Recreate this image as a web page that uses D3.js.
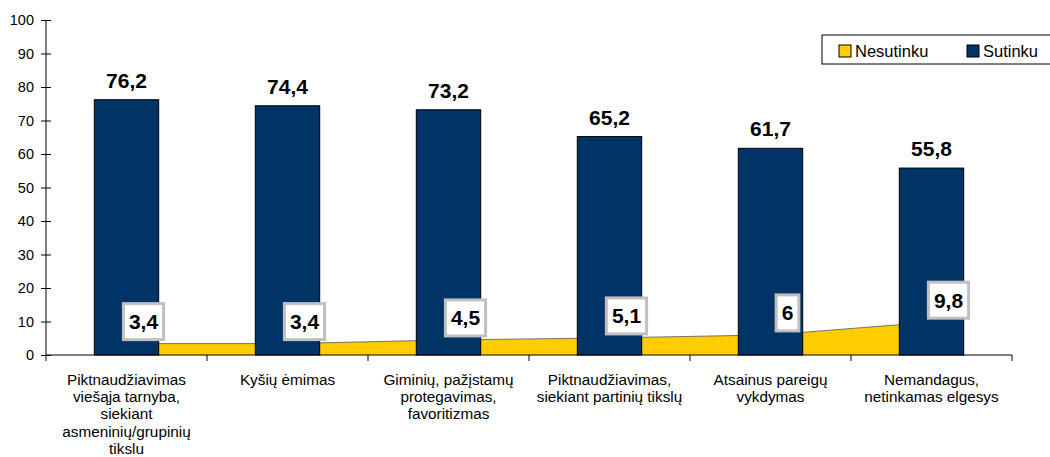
<!DOCTYPE html>
<html>
  <head>
    <meta charset="utf-8">
    <title>Sutinku / Nesutinku</title>
    <style media="screen">
      body { margin: 0; background: white; }
      text { font-family: "Liberation Sans", Arial, sans-serif; fill: black; }
      .axis path, .axis line { stroke: black; stroke-width: 1; fill: none; }
      .bar { fill: #003366; stroke: black; stroke-width: 1; }
      .area { fill: #ffcc00; }
      .area-line { fill: none; stroke: #555; stroke-width: 0.8; }
      .val { font-size: 21px; font-weight: bold; }
      .lbl-box { fill: white; stroke: #c0c0c0; stroke-width: 3; }
    </style>
    <script src="https://d3js.org/d3.v7.min.js"></script>
  </head>
  <body>
    <script type="text/javascript">

      const categories = [
        ["Piktnaudžiavimas", "viešąja tarnyba,", "siekiant", "asmeninių/grupinių", "tikslu"],
        ["Kyšių ėmimas"],
        ["Giminių, pažįstamų", "protegavimas,", "favoritizmas"],
        ["Piktnaudžiavimas,", "siekiant partinių tikslų"],
        ["Atsainus pareigų", "vykdymas"],
        ["Nemandagus,", "netinkamas elgesys"]
      ];
      const sutinku = [76.2, 74.4, 73.2, 65.2, 61.7, 55.8];
      const nesutinku = [3.4, 3.4, 4.5, 5.1, 6, 9.8];
      const yTicks = [0, 10, 20, 30, 40, 50, 60, 70, 80, 90, 100];
      const seriesNames = ["Nesutinku", "Sutinku"];

      const width = 1050;
      const height = 457;
      const margin = { top: 20, left: 46, right: 38, bottom: 102 };

      const fmt = v => String(v).replace(".", ",");
      const idx = categories.map((c, i) => i);

      const svg = d3.select('body')
        .append('svg')
          .attr('width', width)
          .attr('height', height);

      const x = d3.scaleBand()
        .domain(idx)
        .range([margin.left, width - margin.right])
        .padding(0);

      const y = d3.scaleLinear()
        .domain([0, 100])
        .range([height - margin.bottom, margin.top]);

      const bw = x.bandwidth() * 0.4;
      const cx = i => x(i) + x.bandwidth() / 2;

      // nesutinku area behind the bars
      const area = d3.area()
        .x((d, i) => cx(i))
        .y0(y(0))
        .y1(d => y(d));
      svg.append('path').datum(nesutinku).attr('class', 'area').attr('d', area);
      svg.append('path').datum(nesutinku).attr('class', 'area-line')
        .attr('d', d3.line().x((d, i) => cx(i)).y(d => y(d)));

      // sutinku bars
      svg.selectAll('rect.bar')
        .data(sutinku)
        .enter()
        .append('rect')
          .attr('class', 'bar')
          .attr('x', (d, i) => cx(i) - bw / 2)
          .attr('y', d => y(d))
          .attr('width', bw)
          .attr('height', d => y(0) - y(d));

      svg.selectAll('text.top')
        .data(sutinku)
        .enter()
        .append('text')
          .attr('class', 'val top')
          .attr('text-anchor', 'middle')
          .attr('x', (d, i) => cx(i))
          .attr('y', d => y(d) - 12)
          .text(fmt);

      // y axis
      const yAxis = d3.axisLeft(y).tickValues(yTicks).tickSize(0).tickPadding(12);
      const gy = svg.append('g').attr('class', 'axis')
        .attr('transform', `translate(${margin.left},0)`)
        .call(yAxis);
      gy.select('.domain').remove();
      gy.selectAll('text').style('font-size', '14.5px');
      gy.selectAll('.tick').append('line').attr('x1', -5).attr('x2', 5);
      gy.append('line').attr('y1', y(100)).attr('y2', y(0) + 6);

      // x axis
      const gx = svg.append('g').attr('class', 'axis')
        .attr('transform', `translate(0,${y(0)})`);
      gx.append('line').attr('x1', margin.left).attr('x2', width - margin.right);
      gx.selectAll('line.tk')
        .data(idx)
        .enter()
        .append('line')
          .attr('x1', i => x(i) + x.bandwidth())
          .attr('x2', i => x(i) + x.bandwidth())
          .attr('y1', 0).attr('y2', 6);

      const cat = gx.selectAll('text.cat')
        .data(categories)
        .enter()
        .append('text')
          .attr('class', 'cat')
          .attr('text-anchor', 'middle')
          .style('font-size', '15.3px')
          .attr('transform', (d, i) => `translate(${cx(i)},30)`);
      cat.selectAll('tspan')
        .data(d => d)
        .enter()
        .append('tspan')
          .attr('x', 0)
          .attr('dy', (d, j) => j === 0 ? 0 : 17.2)
          .text(d => d);

      // nesutinku labels in boxes
      const lab = svg.selectAll('g.lab')
        .data(nesutinku)
        .enter()
        .append('g')
          .attr('class', 'lab')
          .attr('transform', (d, i) => `translate(${cx(i) + 17},${y(d) - 22})`);
      lab.append('rect').attr('class', 'lbl-box');
      lab.append('text')
        .attr('class', 'val')
        .attr('text-anchor', 'middle')
        .attr('dy', '0.36em')
        .text(fmt);
      lab.each(function() {
        const g = d3.select(this);
        const w = g.select('text').node().getComputedTextLength() + 11;
        g.select('rect').attr('x', -w / 2).attr('y', -18).attr('width', w).attr('height', 36);
      });

      // legend
      const lg = svg.append('g').attr('transform', 'translate(822,35)');
      lg.append('rect').attr('width', 240).attr('height', 29)
        .attr('fill', 'white').attr('stroke', 'black');
      const items = lg.selectAll('g')
        .data(seriesNames)
        .enter()
        .append('g')
          .attr('transform', (d, i) => `translate(${17 + i * 128},10)`);
      items.append('rect')
        .attr('width', 12).attr('height', 12)
        .attr('stroke', 'black')
        .attr('fill', (d, i) => i === 0 ? '#ffcc00' : '#003366');
      items.append('text')
        .attr('x', 16).attr('y', 11.5)
        .style('font-size', '16.5px')
        .text(d => d);
    </script>
  </body>
</html>
